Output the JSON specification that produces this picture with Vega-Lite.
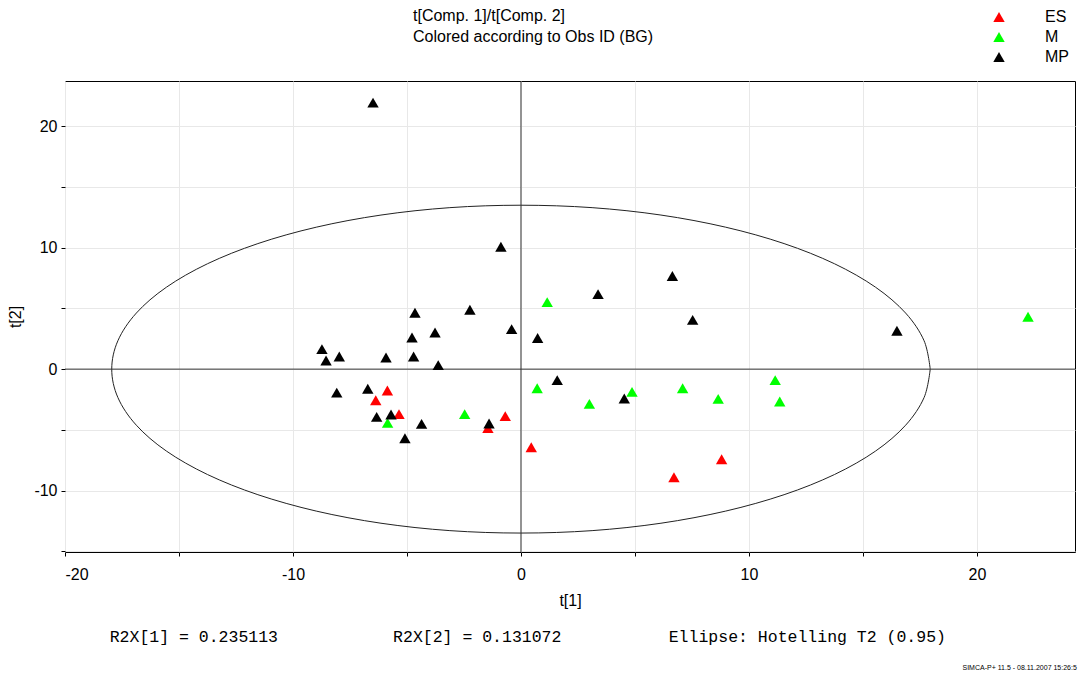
{
  "$schema": "https://vega.github.io/schema/vega-lite/v6.json",
  "width": 1010,
  "height": 471,
  "autosize": {"type": "none"},
  "padding": {"left": 65, "top": 81, "right": 6, "bottom": 125},
  "background": "white",
  "title": {
    "text": ["t[Comp. 1]/t[Comp. 2]", "Colored according to Obs ID (BG)"],
    "anchor": "start",
    "frame": "group",
    "align": "left",
    "dx": 348,
    "dy": 40,
    "font": "Liberation Sans",
    "fontSize": 16,
    "fontWeight": "normal",
    "color": "black",
    "lineHeight": 21
  },
  "config": {
    "view": {"stroke": "black", "strokeWidth": 1},
    "axis": {
      "gridColor": "#e8e8e8",
      "gridWidth": 1,
      "domain": false,
      "tickColor": "black",
      "tickSize": 4,
      "labelFont": "Liberation Sans",
      "labelFontSize": 16,
      "labelColor": "black",
      "titleFont": "Liberation Sans",
      "titleFontSize": 16,
      "titleFontWeight": "normal",
      "titleColor": "black"
    }
  },
  "datasets": {
    "ellipse": [
      {"i": 0, "x": 17.95, "y": 0}, {"i": 1, "x": 17.68, "y": 2.34}, {"i": 2, "x": 16.87, "y": 4.62},
      {"i": 3, "x": 15.55, "y": 6.75}, {"i": 4, "x": 13.75, "y": 8.68}, {"i": 5, "x": 11.54, "y": 10.34},
      {"i": 6, "x": 8.98, "y": 11.69}, {"i": 7, "x": 6.14, "y": 12.69}, {"i": 8, "x": 3.12, "y": 13.3},
      {"i": 9, "x": 0, "y": 13.5}, {"i": 10, "x": -3.12, "y": 13.3}, {"i": 11, "x": -6.14, "y": 12.69},
      {"i": 12, "x": -8.98, "y": 11.69}, {"i": 13, "x": -11.54, "y": 10.34}, {"i": 14, "x": -13.75, "y": 8.68},
      {"i": 15, "x": -15.55, "y": 6.75}, {"i": 16, "x": -16.87, "y": 4.62}, {"i": 17, "x": -17.68, "y": 2.34},
      {"i": 18, "x": -17.95, "y": 0}, {"i": 19, "x": -17.68, "y": -2.34}, {"i": 20, "x": -16.87, "y": -4.62},
      {"i": 21, "x": -15.55, "y": -6.75}, {"i": 22, "x": -13.75, "y": -8.68}, {"i": 23, "x": -11.54, "y": -10.34},
      {"i": 24, "x": -8.98, "y": -11.69}, {"i": 25, "x": -6.14, "y": -12.69}, {"i": 26, "x": -3.12, "y": -13.3},
      {"i": 27, "x": 0, "y": -13.5}, {"i": 28, "x": 3.12, "y": -13.3}, {"i": 29, "x": 6.14, "y": -12.69},
      {"i": 30, "x": 8.98, "y": -11.69}, {"i": 31, "x": 11.54, "y": -10.34}, {"i": 32, "x": 13.75, "y": -8.68},
      {"i": 33, "x": 15.55, "y": -6.75}, {"i": 34, "x": 16.87, "y": -4.62}, {"i": 35, "x": 17.68, "y": -2.34},
      {"i": 36, "x": 17.95, "y": 0}
    ],
    "zero": [{"x": 0, "y": 0}],
    "obs": [
      {"group": "ES", "x": -5.86, "y": -1.76},
      {"group": "ES", "x": -6.37, "y": -2.56},
      {"group": "ES", "x": -5.35, "y": -3.71},
      {"group": "ES", "x": -1.45, "y": -4.86},
      {"group": "ES", "x": -0.69, "y": -3.87},
      {"group": "ES", "x": 0.45, "y": -6.43},
      {"group": "ES", "x": 6.71, "y": -8.9},
      {"group": "ES", "x": 8.8, "y": -7.42},
      {"group": "M", "x": -5.85, "y": -4.43},
      {"group": "M", "x": -2.47, "y": -3.71},
      {"group": "M", "x": 1.15, "y": 5.52},
      {"group": "M", "x": 0.71, "y": -1.57},
      {"group": "M", "x": 3.0, "y": -2.86},
      {"group": "M", "x": 4.87, "y": -1.87},
      {"group": "M", "x": 7.09, "y": -1.57},
      {"group": "M", "x": 8.65, "y": -2.45},
      {"group": "M", "x": 11.15, "y": -0.91},
      {"group": "M", "x": 11.35, "y": -2.67},
      {"group": "M", "x": 22.24, "y": 4.31},
      {"group": "MP", "x": -6.49, "y": 21.95},
      {"group": "MP", "x": -0.88, "y": 10.08},
      {"group": "MP", "x": 6.64, "y": 7.67},
      {"group": "MP", "x": 3.38, "y": 6.18},
      {"group": "MP", "x": 7.53, "y": 4.06},
      {"group": "MP", "x": -2.24, "y": 4.89},
      {"group": "MP", "x": -4.65, "y": 4.64},
      {"group": "MP", "x": -0.41, "y": 3.3},
      {"group": "MP", "x": -3.77, "y": 3.02},
      {"group": "MP", "x": -4.78, "y": 2.61},
      {"group": "MP", "x": 0.73, "y": 2.56},
      {"group": "MP", "x": 16.49, "y": 3.16},
      {"group": "MP", "x": -8.73, "y": 1.65},
      {"group": "MP", "x": -7.97, "y": 1.04},
      {"group": "MP", "x": -8.55, "y": 0.71},
      {"group": "MP", "x": -5.92, "y": 0.96},
      {"group": "MP", "x": -4.71, "y": 1.04},
      {"group": "MP", "x": -3.63, "y": 0.33},
      {"group": "MP", "x": 1.59, "y": -0.91},
      {"group": "MP", "x": -8.08, "y": -1.93},
      {"group": "MP", "x": -6.72, "y": -1.62},
      {"group": "MP", "x": -6.33, "y": -3.93},
      {"group": "MP", "x": -5.7, "y": -3.74},
      {"group": "MP", "x": -4.36, "y": -4.51},
      {"group": "MP", "x": -5.09, "y": -5.69},
      {"group": "MP", "x": -1.4, "y": -4.48},
      {"group": "MP", "x": 4.53, "y": -2.42}
    ],
    "notes": [
      {"x": -18.04, "y": -22.07, "label": "R2X[1] = 0.235113"},
      {"x": -5.61, "y": -22.07, "label": "R2X[2] = 0.131072"},
      {"x": 6.48, "y": -22.07, "label": "Ellipse: Hotelling T2 (0.95)"}
    ],
    "stamp": [
      {"x": 24.38, "y": -24.6, "label": "SIMCA-P+ 11.5 - 08.11.2007 15:26:5"}
    ]
  },
  "layer": [
    {
      "data": {"name": "ellipse"},
      "mark": {"type": "line", "color": "#222222", "strokeWidth": 1, "interpolate": "cardinal"},
      "encoding": {
        "x": {
          "field": "x", "type": "quantitative", "title": "t[1]",
          "scale": {"domain": [-20, 24.3], "nice": false, "zero": false},
          "axis": {
            "title": "t[1]",
            "values": [-20, -15, -10, -5, 0, 5, 10, 15, 20],
            "labelExpr": "datum.value % 10 === 0 ? '' + datum.value : ''",
            "labelPadding": 10,
            "titlePadding": 10
          }
        },
        "y": {
          "field": "y", "type": "quantitative", "title": "t[2]",
          "scale": {"domain": [-15.06, 23.73], "nice": false, "zero": false},
          "axis": {
            "title": "t[2]",
            "values": [-15, -10, -5, 0, 5, 10, 15, 20],
            "labelExpr": "datum.value % 10 === 0 ? '' + datum.value : ''",
            "labelPadding": 4,
            "titlePadding": 10
          }
        },
        "order": {"field": "i", "type": "quantitative"}
      }
    },
    {
      "data": {"name": "zero"},
      "mark": {"type": "rule", "color": "#333333", "strokeWidth": 1},
      "encoding": {"x": {"field": "x", "type": "quantitative", "title": "t[1]"}}
    },
    {
      "data": {"name": "zero"},
      "mark": {"type": "rule", "color": "#333333", "strokeWidth": 1},
      "encoding": {"y": {"field": "y", "type": "quantitative", "title": "t[2]"}}
    },
    {
      "data": {"name": "obs"},
      "mark": {"type": "point", "shape": "triangle-up", "filled": true, "size": 130, "opacity": 1},
      "encoding": {
        "x": {"field": "x", "type": "quantitative", "title": "t[1]"},
        "y": {"field": "y", "type": "quantitative", "title": "t[2]"},
        "color": {
          "field": "group", "type": "nominal",
          "scale": {"domain": ["ES", "M", "MP"], "range": ["#ff0000", "#00ff00", "#000000"]},
          "legend": {
            "title": null,
            "orient": "none",
            "legendX": 926,
            "legendY": -72,
            "symbolType": "triangle-up",
            "symbolSize": 130,
            "symbolStrokeWidth": 0,
            "labelFont": "Liberation Sans",
            "labelFontSize": 16,
            "labelColor": "black",
            "labelOffset": 38,
            "rowPadding": 4,
            "padding": 0
          }
        }
      }
    },
    {
      "data": {"name": "notes"},
      "mark": {"type": "text", "align": "left", "baseline": "middle", "font": "Liberation Mono", "fontSize": 16.5, "color": "black"},
      "encoding": {
        "x": {"field": "x", "type": "quantitative", "title": "t[1]"},
        "y": {"field": "y", "type": "quantitative", "title": "t[2]"},
        "text": {"field": "label"}
      }
    },
    {
      "data": {"name": "stamp"},
      "mark": {"type": "text", "align": "right", "baseline": "middle", "font": "Liberation Sans", "fontSize": 7, "color": "black"},
      "encoding": {
        "x": {"field": "x", "type": "quantitative", "title": "t[1]"},
        "y": {"field": "y", "type": "quantitative", "title": "t[2]"},
        "text": {"field": "label"}
      }
    }
  ]
}
